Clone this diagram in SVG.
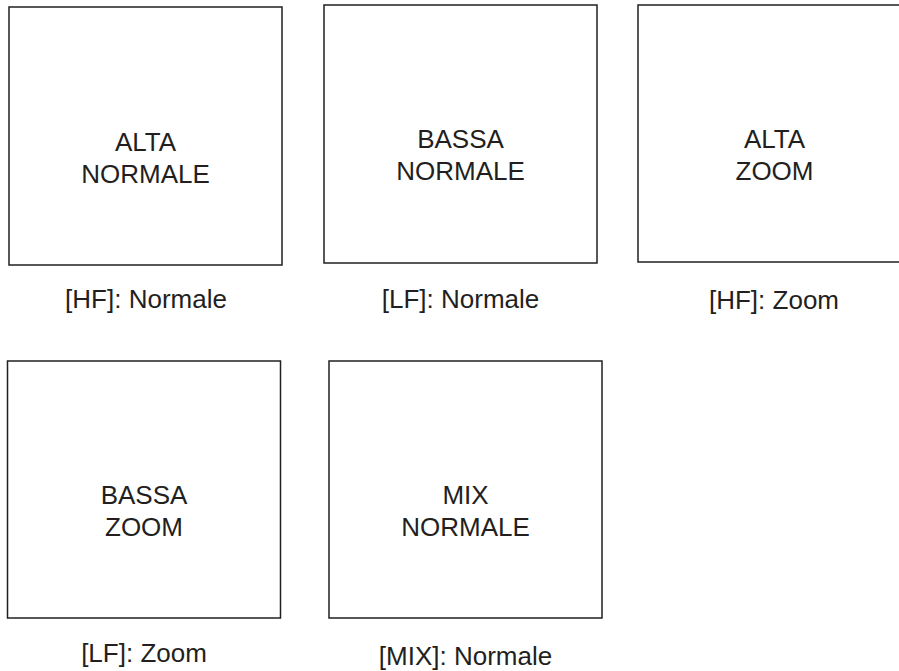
<svg xmlns="http://www.w3.org/2000/svg" width="899" height="671" viewBox="0 0 899 671">
<style>
.box{fill:#fff;stroke:#231f20;stroke-width:1.5}
.t{font-family:"Liberation Sans",Arial,sans-serif;font-size:26px;fill:#231f20;text-anchor:middle}
</style>
<rect width="899" height="671" fill="#fff"/>
<g id="connectors"/>
<g id="n1"><rect class="box" x="9" y="7" width="273" height="258"/><text class="t" x="145.5" y="150.7">ALTA</text><text class="t" x="145.5" y="182.7">NORMALE</text><text class="t" x="146" y="307.5">[HF]: Normale</text></g>
<g id="n2"><rect class="box" x="324" y="5" width="273" height="258"/><text class="t" x="460.5" y="147.5">BASSA</text><text class="t" x="460.5" y="180">NORMALE</text><text class="t" x="460.5" y="308">[LF]: Normale</text></g>
<g id="n3"><rect class="box" x="638" y="5" width="273" height="257"/><text class="t" x="774.5" y="147.5">ALTA</text><text class="t" x="774.5" y="180">ZOOM</text><text class="t" x="774" y="309">[HF]: Zoom</text></g>
<g id="n4"><rect class="box" x="7.5" y="361" width="273" height="257"/><text class="t" x="144" y="504">BASSA</text><text class="t" x="144" y="536">ZOOM</text><text class="t" x="144" y="662">[LF]: Zoom</text></g>
<g id="n5"><rect class="box" x="329" y="361" width="273" height="257"/><text class="t" x="465.5" y="504">MIX</text><text class="t" x="465.5" y="536">NORMALE</text><text class="t" x="465.5" y="665">[MIX]: Normale</text></g>
</svg>
